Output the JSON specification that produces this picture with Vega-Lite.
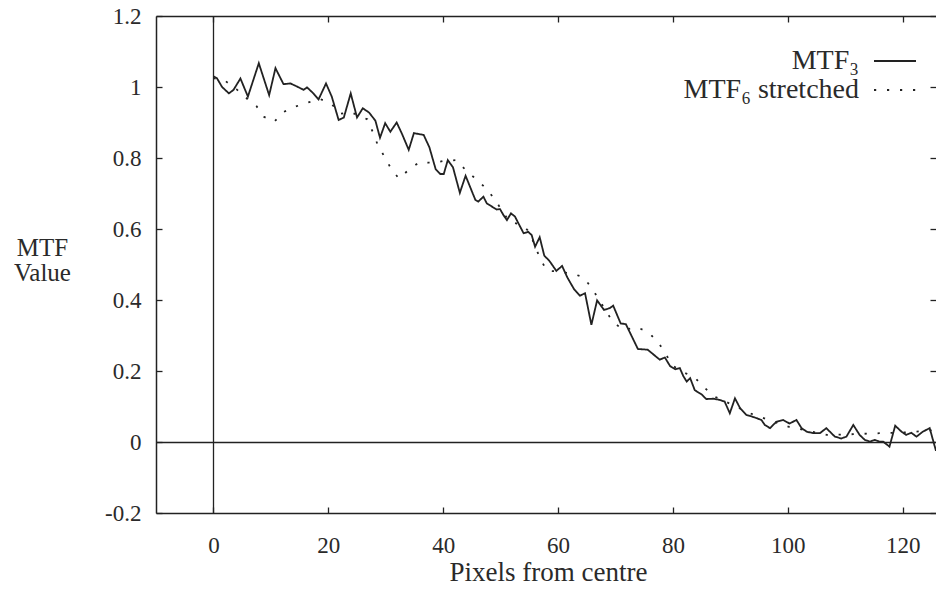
{
  "$schema": "https://vega.github.io/schema/vega-lite/v6.json",
  "autosize": {"type": "none"},
  "padding": {"left": 156, "top": 16, "right": 0, "bottom": 78},
  "width": 780,
  "height": 497,
  "background": "white",
  "config": {
    "view": {"stroke": null},
    "axis": {
      "labelFont": "Liberation Serif",
      "titleFont": "Liberation Serif",
      "labelColor": "#2a2a2a",
      "titleColor": "#2a2a2a",
      "tickColor": "#222",
      "domainColor": "#222",
      "domainWidth": 1.5,
      "tickWidth": 1.3,
      "titleFontWeight": "normal"
    }
  },
  "data": {
    "values": [
      {"series": "MTF₃", "x": 0, "v": 1.03}, {"series": "MTF₃", "x": 0.6, "v": 1.025}, {"series": "MTF₃", "x": 1.5, "v": 1.0}, {"series": "MTF₃", "x": 2.7, "v": 0.982}, {"series": "MTF₃", "x": 3.5, "v": 0.992}, {"series": "MTF₃", "x": 4.7, "v": 1.024}, {"series": "MTF₃", "x": 6, "v": 0.973}, {"series": "MTF₃", "x": 7.9, "v": 1.067}, {"series": "MTF₃", "x": 9.7, "v": 0.977}, {"series": "MTF₃", "x": 10.8, "v": 1.053}, {"series": "MTF₃", "x": 12.2, "v": 1.008}, {"series": "MTF₃", "x": 13.4, "v": 1.01}, {"series": "MTF₃", "x": 14.6, "v": 1.001}, {"series": "MTF₃", "x": 15.7, "v": 0.992}, {"series": "MTF₃", "x": 16.3, "v": 0.999}, {"series": "MTF₃", "x": 17.4, "v": 0.982}, {"series": "MTF₃", "x": 18.3, "v": 0.965}, {"series": "MTF₃", "x": 19.6, "v": 1.01}, {"series": "MTF₃", "x": 20.6, "v": 0.973}, {"series": "MTF₃", "x": 21.8, "v": 0.907}, {"series": "MTF₃", "x": 22.7, "v": 0.914}, {"series": "MTF₃", "x": 23.9, "v": 0.982}, {"series": "MTF₃", "x": 25, "v": 0.914}, {"series": "MTF₃", "x": 26, "v": 0.94}, {"series": "MTF₃", "x": 27.1, "v": 0.928}, {"series": "MTF₃", "x": 28.2, "v": 0.905}, {"series": "MTF₃", "x": 29, "v": 0.857}, {"series": "MTF₃", "x": 29.9, "v": 0.898}, {"series": "MTF₃", "x": 30.8, "v": 0.874}, {"series": "MTF₃", "x": 31.9, "v": 0.9}, {"series": "MTF₃", "x": 32.8, "v": 0.869}, {"series": "MTF₃", "x": 34, "v": 0.823}, {"series": "MTF₃", "x": 34.9, "v": 0.87}, {"series": "MTF₃", "x": 36.6, "v": 0.865}, {"series": "MTF₃", "x": 37.6, "v": 0.83}, {"series": "MTF₃", "x": 38.7, "v": 0.768}, {"series": "MTF₃", "x": 39.5, "v": 0.755}, {"series": "MTF₃", "x": 40.1, "v": 0.755}, {"series": "MTF₃", "x": 40.8, "v": 0.794}, {"series": "MTF₃", "x": 41.7, "v": 0.774}, {"series": "MTF₃", "x": 42.9, "v": 0.702}, {"series": "MTF₃", "x": 43.9, "v": 0.75}, {"series": "MTF₃", "x": 45.6, "v": 0.682}, {"series": "MTF₃", "x": 46.1, "v": 0.677}, {"series": "MTF₃", "x": 47, "v": 0.691}, {"series": "MTF₃", "x": 47.6, "v": 0.672}, {"series": "MTF₃", "x": 48.5, "v": 0.663}, {"series": "MTF₃", "x": 49.3, "v": 0.655}, {"series": "MTF₃", "x": 49.9, "v": 0.656}, {"series": "MTF₃", "x": 50.5, "v": 0.639}, {"series": "MTF₃", "x": 51.1, "v": 0.625}, {"series": "MTF₃", "x": 51.8, "v": 0.644}, {"series": "MTF₃", "x": 52.5, "v": 0.635}, {"series": "MTF₃", "x": 53.1, "v": 0.616}, {"series": "MTF₃", "x": 54, "v": 0.588}, {"series": "MTF₃", "x": 54.8, "v": 0.592}, {"series": "MTF₃", "x": 55.4, "v": 0.583}, {"series": "MTF₃", "x": 56, "v": 0.55}, {"series": "MTF₃", "x": 56.8, "v": 0.577}, {"series": "MTF₃", "x": 57.6, "v": 0.525}, {"series": "MTF₃", "x": 58.5, "v": 0.51}, {"series": "MTF₃", "x": 59.7, "v": 0.482}, {"series": "MTF₃", "x": 60.7, "v": 0.496}, {"series": "MTF₃", "x": 61.6, "v": 0.464}, {"series": "MTF₃", "x": 62.8, "v": 0.43}, {"series": "MTF₃", "x": 63.8, "v": 0.412}, {"series": "MTF₃", "x": 64.7, "v": 0.419}, {"series": "MTF₃", "x": 65.8, "v": 0.33}, {"series": "MTF₃", "x": 66.8, "v": 0.399}, {"series": "MTF₃", "x": 68, "v": 0.372}, {"series": "MTF₃", "x": 69, "v": 0.377}, {"series": "MTF₃", "x": 69.6, "v": 0.384}, {"series": "MTF₃", "x": 70.9, "v": 0.334}, {"series": "MTF₃", "x": 71.8, "v": 0.332}, {"series": "MTF₃", "x": 73.9, "v": 0.262}, {"series": "MTF₃", "x": 75.6, "v": 0.26}, {"series": "MTF₃", "x": 77.7, "v": 0.232}, {"series": "MTF₃", "x": 78.6, "v": 0.238}, {"series": "MTF₃", "x": 79.5, "v": 0.214}, {"series": "MTF₃", "x": 80.4, "v": 0.205}, {"series": "MTF₃", "x": 81.2, "v": 0.208}, {"series": "MTF₃", "x": 81.8, "v": 0.186}, {"series": "MTF₃", "x": 82.4, "v": 0.17}, {"series": "MTF₃", "x": 83, "v": 0.18}, {"series": "MTF₃", "x": 83.8, "v": 0.146}, {"series": "MTF₃", "x": 85, "v": 0.134}, {"series": "MTF₃", "x": 85.8, "v": 0.121}, {"series": "MTF₃", "x": 87, "v": 0.122}, {"series": "MTF₃", "x": 88, "v": 0.119}, {"series": "MTF₃", "x": 89, "v": 0.114}, {"series": "MTF₃", "x": 89.9, "v": 0.081}, {"series": "MTF₃", "x": 90.8, "v": 0.123}, {"series": "MTF₃", "x": 91.7, "v": 0.095}, {"series": "MTF₃", "x": 92.8, "v": 0.076}, {"series": "MTF₃", "x": 93.7, "v": 0.072}, {"series": "MTF₃", "x": 94.6, "v": 0.067}, {"series": "MTF₃", "x": 95.4, "v": 0.062}, {"series": "MTF₃", "x": 96, "v": 0.048}, {"series": "MTF₃", "x": 96.9, "v": 0.039}, {"series": "MTF₃", "x": 98, "v": 0.057}, {"series": "MTF₃", "x": 99.2, "v": 0.062}, {"series": "MTF₃", "x": 100.3, "v": 0.052}, {"series": "MTF₃", "x": 101.5, "v": 0.062}, {"series": "MTF₃", "x": 102.4, "v": 0.039}, {"series": "MTF₃", "x": 103.3, "v": 0.029}, {"series": "MTF₃", "x": 104.4, "v": 0.025}, {"series": "MTF₃", "x": 105.6, "v": 0.025}, {"series": "MTF₃", "x": 106.7, "v": 0.039}, {"series": "MTF₃", "x": 108.2, "v": 0.015}, {"series": "MTF₃", "x": 109.3, "v": 0.01}, {"series": "MTF₃", "x": 110.2, "v": 0.015}, {"series": "MTF₃", "x": 111.4, "v": 0.048}, {"series": "MTF₃", "x": 112.5, "v": 0.02}, {"series": "MTF₃", "x": 113.4, "v": 0.006}, {"series": "MTF₃", "x": 114.3, "v": 0.001}, {"series": "MTF₃", "x": 115.1, "v": 0.006}, {"series": "MTF₃", "x": 116, "v": 0.001}, {"series": "MTF₃", "x": 116.6, "v": 0.001}, {"series": "MTF₃", "x": 117.7, "v": -0.013}, {"series": "MTF₃", "x": 118.7, "v": 0.046}, {"series": "MTF₃", "x": 119.8, "v": 0.029}, {"series": "MTF₃", "x": 120.6, "v": 0.02}, {"series": "MTF₃", "x": 121.5, "v": 0.026}, {"series": "MTF₃", "x": 122.4, "v": 0.015}, {"series": "MTF₃", "x": 123.5, "v": 0.029}, {"series": "MTF₃", "x": 124.7, "v": 0.039}, {"series": "MTF₃", "x": 125.8, "v": -0.025},
      {"series": "MTF₆ stretched", "x": 0, "v": 1.025}, {"series": "MTF₆ stretched", "x": 2, "v": 1.018}, {"series": "MTF₆ stretched", "x": 4, "v": 0.994}, {"series": "MTF₆ stretched", "x": 6, "v": 0.965}, {"series": "MTF₆ stretched", "x": 7.5, "v": 0.946}, {"series": "MTF₆ stretched", "x": 8.8, "v": 0.916}, {"series": "MTF₆ stretched", "x": 10.6, "v": 0.902}, {"series": "MTF₆ stretched", "x": 12.1, "v": 0.929}, {"series": "MTF₆ stretched", "x": 14.3, "v": 0.945}, {"series": "MTF₆ stretched", "x": 16.4, "v": 0.956}, {"series": "MTF₆ stretched", "x": 18.6, "v": 0.966}, {"series": "MTF₆ stretched", "x": 20.6, "v": 0.952}, {"series": "MTF₆ stretched", "x": 22, "v": 0.924}, {"series": "MTF₆ stretched", "x": 23.8, "v": 0.93}, {"series": "MTF₆ stretched", "x": 26.8, "v": 0.909}, {"series": "MTF₆ stretched", "x": 27.8, "v": 0.871}, {"series": "MTF₆ stretched", "x": 28.6, "v": 0.837}, {"series": "MTF₆ stretched", "x": 29.8, "v": 0.803}, {"series": "MTF₆ stretched", "x": 30.9, "v": 0.771}, {"series": "MTF₆ stretched", "x": 32.3, "v": 0.742}, {"series": "MTF₆ stretched", "x": 34.1, "v": 0.768}, {"series": "MTF₆ stretched", "x": 35.9, "v": 0.789}, {"series": "MTF₆ stretched", "x": 38.2, "v": 0.786}, {"series": "MTF₆ stretched", "x": 40.1, "v": 0.792}, {"series": "MTF₆ stretched", "x": 42.4, "v": 0.794}, {"series": "MTF₆ stretched", "x": 44, "v": 0.764}, {"series": "MTF₆ stretched", "x": 45.9, "v": 0.738}, {"series": "MTF₆ stretched", "x": 47.6, "v": 0.712}, {"series": "MTF₆ stretched", "x": 48.9, "v": 0.685}, {"series": "MTF₆ stretched", "x": 51.5, "v": 0.621}, {"series": "MTF₆ stretched", "x": 53.8, "v": 0.611}, {"series": "MTF₆ stretched", "x": 55.1, "v": 0.59}, {"series": "MTF₆ stretched", "x": 56, "v": 0.55}, {"series": "MTF₆ stretched", "x": 56.9, "v": 0.517}, {"series": "MTF₆ stretched", "x": 58, "v": 0.483}, {"series": "MTF₆ stretched", "x": 60, "v": 0.48}, {"series": "MTF₆ stretched", "x": 62.6, "v": 0.474}, {"series": "MTF₆ stretched", "x": 64.4, "v": 0.464}, {"series": "MTF₆ stretched", "x": 65.9, "v": 0.433}, {"series": "MTF₆ stretched", "x": 69.5, "v": 0.339}, {"series": "MTF₆ stretched", "x": 71.4, "v": 0.315}, {"series": "MTF₆ stretched", "x": 73.6, "v": 0.324}, {"series": "MTF₆ stretched", "x": 75.7, "v": 0.31}, {"series": "MTF₆ stretched", "x": 77.5, "v": 0.279}, {"series": "MTF₆ stretched", "x": 78.7, "v": 0.25}, {"series": "MTF₆ stretched", "x": 79.8, "v": 0.217}, {"series": "MTF₆ stretched", "x": 81.6, "v": 0.198}, {"series": "MTF₆ stretched", "x": 83.7, "v": 0.183}, {"series": "MTF₆ stretched", "x": 85.3, "v": 0.156}, {"series": "MTF₆ stretched", "x": 87.1, "v": 0.129}, {"series": "MTF₆ stretched", "x": 91, "v": 0.1}, {"series": "MTF₆ stretched", "x": 93.4, "v": 0.081}, {"series": "MTF₆ stretched", "x": 100.1, "v": 0.043}, {"series": "MTF₆ stretched", "x": 106.8, "v": 0.02}, {"series": "MTF₆ stretched", "x": 111.4, "v": 0.022}, {"series": "MTF₆ stretched", "x": 116.4, "v": 0.025}, {"series": "MTF₆ stretched", "x": 120.6, "v": 0.027}, {"series": "MTF₆ stretched", "x": 125.8, "v": 0.034}
    ]
  },
  "layer": [
    {
      "mark": {"type": "line", "color": "#222", "strokeWidth": 1.8, "clip": true},
      "encoding": {
        "x": {
          "field": "x", "type": "quantitative",
          "scale": {"domain": [-10, 125.8], "nice": false, "zero": false},
          "axis": {
            "orient": "bottom", "values": [0, 20, 40, 60, 80, 100, 120],
            "tickSize": -6, "labelPadding": 27, "labelFontSize": 23,
            "labelExpr": "'' + datum.value",
            "title": "Pixels from centre", "titleFontSize": 27,
            "titleX": 392, "titleY": 67, "titleBaseline": "alphabetic", "titleAlign": "center",
            "grid": true, "gridWidth": 1.3,
            "gridColor": {"condition": {"test": "datum.value === 0", "value": "#222"}, "value": "rgba(0,0,0,0)"}
          }
        },
        "y": {
          "field": "v", "type": "quantitative",
          "scale": {"domain": [-0.2, 1.2], "nice": false, "zero": false},
          "axis": {
            "orient": "left", "values": [-0.2, 0, 0.2, 0.4, 0.6, 0.8, 1, 1.2],
            "tickSize": -6, "labelPadding": 21, "labelFontSize": 23,
            "labelExpr": "'' + datum.value",
            "title": ["MTF", "Value"], "titleFontSize": 25, "titleLineHeight": 25,
            "titleAngle": 0, "titleAlign": "center", "titleBaseline": "alphabetic",
            "titleX": -114, "titleY": 239,
            "grid": true, "gridWidth": 1.3,
            "gridColor": {"condition": {"test": "datum.value === 0", "value": "#222"}, "value": "rgba(0,0,0,0)"}
          }
        },
        "strokeDash": {
          "field": "series", "type": "nominal",
          "scale": {"domain": ["MTF₃", "MTF₆ stretched"], "range": [[1, 0], [2.2, 10.8]]},
          "legend": {
            "orient": "none", "legendX": 724, "legendY": 30, "title": null,
            "symbolType": "M-1.5,0H1.5", "symbolSize": 784, "symbolStrokeWidth": 2,
            "symbolStrokeColor": "#222", "labelAlign": "right", "labelOffset": -51,
            "labelFont": "Liberation Serif", "labelFontSize": 28, "labelColor": "#2a2a2a",
            "rowPadding": 0, "padding": 0, "labelLimit": 400
          }
        }
      }
    },
    {
      "mark": {"type": "line", "opacity": 0},
      "encoding": {
        "x": {
          "field": "x", "type": "quantitative",
          "axis": {"orient": "top", "values": [0, 20, 40, 60, 80, 100, 120], "tickSize": -6, "labels": false, "title": null, "grid": false}
        },
        "y": {
          "field": "v", "type": "quantitative",
          "axis": {"orient": "right", "values": [-0.2, 0, 0.2, 0.4, 0.6, 0.8, 1, 1.2], "tickSize": -6, "labels": false, "title": null, "grid": false, "domain": false}
        },
        "detail": {"field": "series", "type": "nominal"}
      }
    }
  ],
  "resolve": {"axis": {"x": "independent", "y": "independent"}}
}
